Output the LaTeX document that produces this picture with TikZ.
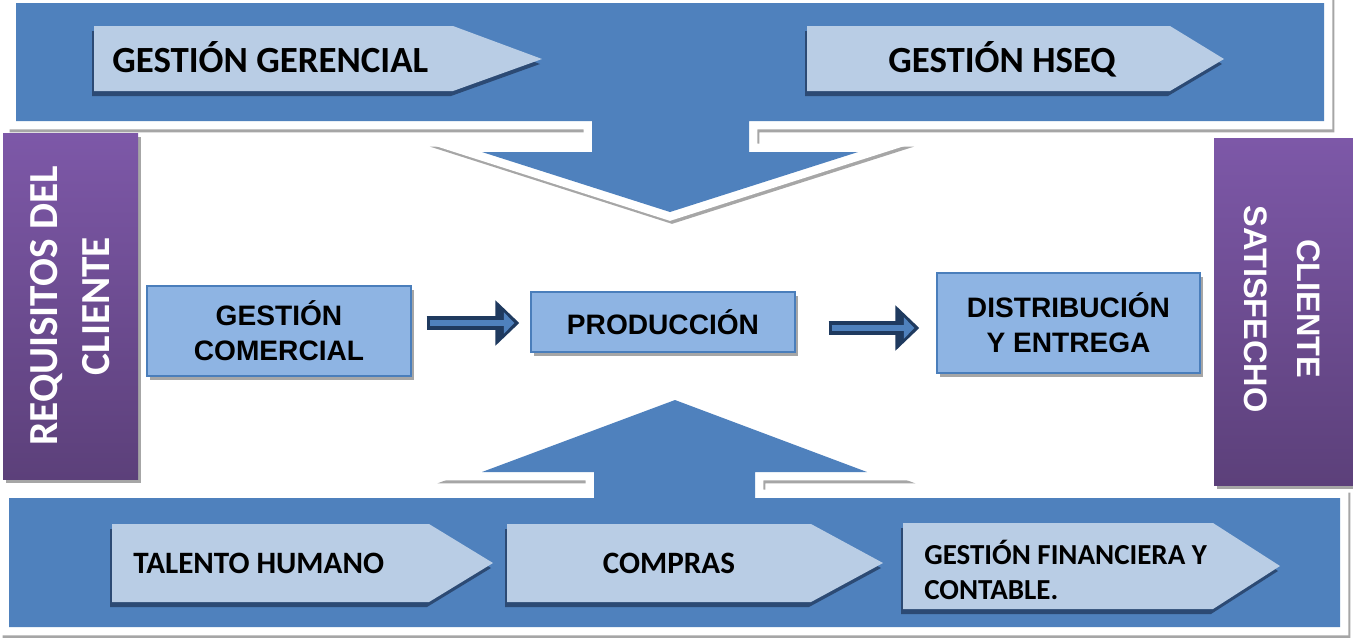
\documentclass[tikz,border=0pt]{standalone}
\usepackage{fontspec}
\setmainfont{Carlito}
\newfontfamily\arialfont{Liberation Sans}
\usetikzlibrary{calc,arrows.meta}
\definecolor{bandblue}{HTML}{4F81BD}
\definecolor{chevfill}{HTML}{B9CDE5}
\definecolor{chevshadow}{HTML}{2C4A74}
\definecolor{boxfill}{HTML}{8EB4E3}
\definecolor{boxline}{HTML}{4A7EBB}
\definecolor{purptop}{HTML}{7D58A8}
\definecolor{purpbot}{HTML}{5C407A}
\definecolor{shadowgray}{HTML}{A6A6A6}
\definecolor{navyarr}{HTML}{1F3A5F}
\begin{document}
\begin{tikzpicture}[x=0.02cm,y=-0.02cm,
  callshadow/.style={draw=shadowgray, line width=9.6pt, line join=miter},
  callwhite/.style={draw=white, line width=9.6pt, line join=miter},
  callfill/.style={fill=bandblue},
  chev/.style={fill=chevfill},
  chevsh/.style={fill=chevshadow},
  chevtext/.style={inner sep=0pt, text=black, font=\fontsize{21}{25}\selectfont\bfseries},
  chevtextb/.style={inner sep=0pt, text=black, font=\fontsize{17.7}{21}\selectfont\bfseries},
  chevtextc/.style={inner sep=0pt, text=black, align=left, font=\fontsize{16.5}{19.8}\selectfont\bfseries},
  procbox/.style={draw=boxline, line width=0.8pt, fill=boxfill, inner sep=0pt, align=center,
     minimum width=5.28cm, text=black, font=\arialfont\fontsize{16}{19.8}\selectfont\bfseries},
  sidetextl/.style={inner sep=0pt, text=white, align=center, font=\fontsize{23.5}{29.5}\selectfont\bfseries},
  sidetextr/.style={inner sep=0pt, text=white, align=center, font=\arialfont\fontsize{18.5}{30}\selectfont\bfseries},
  blockarr/.style={draw=navyarr, line width=7.9pt, -{Triangle[length=13.6pt,width=25pt]}},
  blockin/.style={draw=bandblue, line width=3.2pt, -{Triangle[length=6pt,width=12pt]}}
]
\useasboundingbox (0,0) rectangle (1353,637);
\fill[white] (0,0) rectangle (1353,637);

\def\toppath{(16,3) -- (1324,3) -- (1324,121) -- (749,121) -- (749,152) -- (858,152) -- (670,212) -- (482,152) -- (592,152) -- (592,121) -- (16,121) -- cycle}
\def\botpath{(9,627) -- (9,498) -- (594,498) -- (594,472) -- (482,472) -- (675,400) -- (867,472) -- (755,472) -- (755,498) -- (1340,498) -- (1340,627) -- cycle}

% top callout band
\draw[callshadow, shift={(2,3)}] \toppath;
\draw[callwhite] \toppath;
\fill[callfill] \toppath;
% bottom callout band
\draw[callshadow, shift={(2,3)}] \botpath;
\draw[callwhite] \botpath;
\fill[callfill] \botpath;

% top chevrons
\fill[chevsh] (92,31) -- (451,31) -- (540,64) -- (451,96) -- (92,96) -- cycle;
\fill[chev] (94,26) -- (453,26) -- (542,59) -- (453,91) -- (94,91) -- cycle;
\node[chevtext, anchor=base west] (tgg) at (112,72) {GESTIÓN GERENCIAL};

\fill[chevsh] (805,31) -- (1168,31) -- (1222,64) -- (1168,96) -- (805,96) -- cycle;
\fill[chev] (807,26) -- (1170,26) -- (1224,59) -- (1170,91) -- (807,91) -- cycle;
\node[chevtext, anchor=base] (tgh) at (1002,72) {GESTIÓN HSEQ};

% bottom chevrons
\fill[chevsh] (110,529) -- (427,529) -- (491,568) -- (427,607) -- (110,607) -- cycle;
\fill[chev] (112,524) -- (429,524) -- (493,563) -- (429,602) -- (112,602) -- cycle;
\node[chevtextb, anchor=base west] (tth) at (133,573) {TALENTO HUMANO};

\fill[chevsh] (505,529) -- (809,529) -- (881,568) -- (809,607) -- (505,607) -- cycle;
\fill[chev] (507,524) -- (811,524) -- (883,563) -- (811,602) -- (507,602) -- cycle;
\node[chevtextb, anchor=base] (tco) at (669,573) {COMPRAS};

\fill[chevsh] (901,528) -- (1211,528) -- (1278,571) -- (1211,614) -- (901,614) -- cycle;
\fill[chev] (903,523) -- (1213,523) -- (1280,566) -- (1213,609) -- (903,609) -- cycle;
\node[chevtextc, anchor=west] (tgf) at (924,570) {GESTIÓN FINANCIERA Y\\CONTABLE.};

% side purple boxes
\fill[shadowgray] (6,137) rectangle (141,483);
\shade[top color=purptop, bottom color=purpbot] (3,133) rectangle (138,479);
\node[sidetextl, rotate=90] (req) at (70.5,306) {REQUISITOS DEL\\CLIENTE};

\fill[shadowgray] (1217,142) rectangle (1360,489);
\shade[top color=purptop, bottom color=purpbot] (1214,138) rectangle (1360,485);
\node[sidetextr, rotate=-90] (sat) at (1282,309) {CLIENTE\\SATISFECHO};

% process boxes
\fill[shadowgray] (150,290) rectangle (414,380);
\node[procbox, minimum height=1.8cm] (gc) at (279,331) {GESTIÓN\\COMERCIAL};
\fill[shadowgray] (534,296) rectangle (798,356);
\node[procbox, minimum height=1.2cm] (prod) at (663,322) {PRODUCCIÓN};
\fill[shadowgray] (940,277) rectangle (1203,377);
\node[procbox, minimum width=5.26cm, minimum height=2cm] (dist) at (1068.5,323) {DISTRIBUCIÓN\\Y ENTREGA};

% block arrows
\draw[blockarr] ($(gc.east)+(15,-8)$) -- ($(prod.west)+(-11,1)$);
\draw[blockin] ($(gc.east)+(18,-8)$) -- ($(prod.west)+(-16,1)$);
\draw[blockarr] ($(prod.east)+(33,6)$) -- ($(dist.west)+(-17,5)$);
\draw[blockin] ($(prod.east)+(36,6)$) -- ($(dist.west)+(-22,5)$);
\end{tikzpicture}
\end{document}
